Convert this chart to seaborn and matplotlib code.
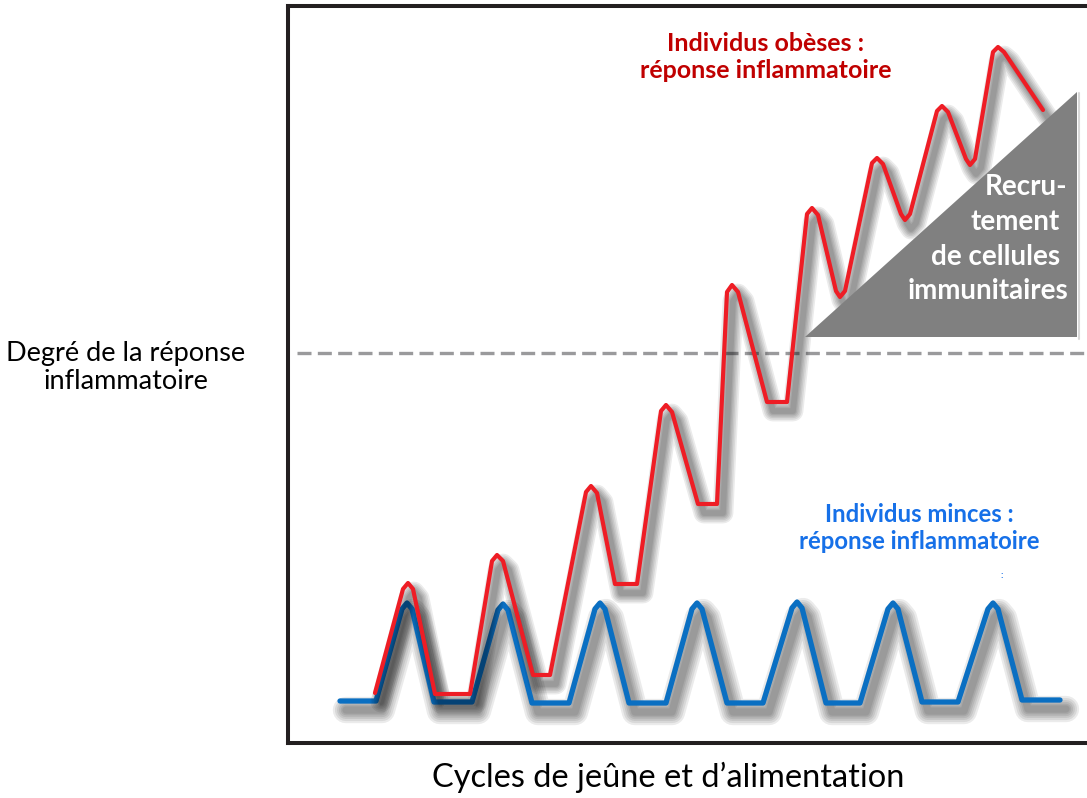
import matplotlib
matplotlib.use("Agg")
import matplotlib.pyplot as plt
import matplotlib.patheffects as pe
import seaborn as sns
import pandas as pd

# ---- data (arbitrary units) ----
blue_x = [52, 88, 114, 119, 124, 146, 184, 210, 215, 220, 244, 281, 307, 312, 317, 341,
          378, 404, 409, 414, 439, 475, 504, 509, 514, 538, 572, 600, 605, 610, 634,
          670, 700, 705, 710, 734, 772]
blue_y = [42, 42, 134, 140, 134, 41, 41, 133, 139, 133, 40, 40, 134, 140, 134, 40,
          40, 134, 140, 134, 40, 40, 135, 141, 135, 40, 40, 134, 140, 134, 41,
          41, 134, 140, 134, 43, 43]

red_x = [87, 115, 120, 125, 147, 182, 204, 209, 215, 245, 262, 298, 303, 309, 327, 349,
         373, 378, 384, 410, 429, 439, 444, 450, 479, 499, 519, 524, 530, 548, 552, 557,
         584, 589, 595, 613, 617, 622, 649, 654, 660, 678, 682, 687, 705, 710, 716, 755]
red_y = [50, 154, 160, 154, 49, 49, 182, 188, 182, 68, 68, 251, 257, 250, 159, 159,
         332, 338, 331, 239, 239, 451, 458, 451, 341, 341, 529, 535, 528, 452, 446, 452,
         580, 585, 579, 529, 523, 529, 632, 637, 631, 584, 578, 584, 691, 696, 691, 633]

threshold = 390
triangle_x = [517, 789, 789]
triangle_y = [406, 406, 651]

obese_label = "Individus obèses :\nréponse inflammatoire"
thin_label = "Individus minces :\nréponse inflammatoire"
recruit_lines = ["Recru-", "tement", "de cellules", "immunitaires"]
recruit_right = [779, 772, 772, 780]
recruit_y = [556, 521, 486, 452]
ylabel = "Degré de la réponse\ninflammatoire"
xlabel = "Cycles de jeûne et d\u2019alimentation"

# ---- figure ----
sns.set_style("white")
plt.rcParams["font.family"] = ["Lato", "DejaVu Sans"]

fig = plt.figure(figsize=(10.87, 7.98), dpi=100)
ax = fig.add_axes([288 / 1087, 55 / 798, 800 / 1087, 737 / 798])
ax.set_xlim(0, 800)
ax.set_ylim(0, 737)

df = pd.concat([
    pd.DataFrame({"x": blue_x, "y": blue_y, "groupe": "minces"}),
    pd.DataFrame({"x": red_x, "y": red_y, "groupe": "obèses"}),
], ignore_index=True)

sns.lineplot(data=df, x="x", y="y", hue="groupe", palette={"minces": "#0A6FC2", "obèses": "#EE1D25"},
             sort=False, estimator=None, legend=False, ax=ax)

widths = {0: 3.8, 1: 3.0}
for i, line in enumerate(ax.lines[:2]):
    lw = widths[i]
    line.set_linewidth(lw)
    line.set_solid_joinstyle("round")
    line.set_zorder(3 + i)
    off = (4.3, -6.5)
    effects = []
    for k in [5.0, 4.2, 3.4, 2.7, 2.0, 1.4]:
        effects.append(pe.SimpleLineShadow(offset=off, shadow_color="#000000",
                                           alpha=0.08, linewidth=lw * k))
    effects.append(pe.Normal())
    line.set_path_effects(effects)

# threshold dashed line
ax.plot([9, 797], [threshold, threshold], color="#9A9A9C", lw=2.4,
        dashes=(4.2, 1.9), zorder=2)

# triangle
ax.fill(triangle_x, triangle_y, color="#808080", zorder=5, lw=0)
ax.plot([791, 791], [404, 650], color="#D8D8D8", lw=1.5, zorder=4)
for txt, xr, yy in zip(recruit_lines, recruit_right, recruit_y):
    ax.text(xr, yy, txt, color="white", fontsize=20, fontweight="bold",
            ha="right", va="center", zorder=6)

# labels
ax.text(478, 686, obese_label, color="#C00000", fontsize=18, fontweight="bold",
        ha="center", va="center", linespacing=1.2, zorder=6)
ax.text(631, 215, thin_label, color="#1670E8", fontsize=17.2, fontweight="bold",
        ha="center", va="center", linespacing=1.25, zorder=6)
ax.text(714, 168, ":", color="#1670E8", fontsize=7, fontweight="bold",
        ha="center", va="center", zorder=6)

ax.set_xlabel(xlabel, fontsize=23.4, color="black")
ax.xaxis.set_label_coords(0.475, -0.047)
ax.xaxis.label.set_va("center")
ax.set_ylabel(ylabel, fontsize=19.5, color="black", rotation=0, ha="center", va="center",
              multialignment="center", linespacing=1.15)
ax.yaxis.set_label_coords(-0.2025, 0.51)

ax.set_xticks([])
ax.set_yticks([])
for s in ["left", "top", "bottom"]:
    ax.spines[s].set_color("#231F20")
    ax.spines[s].set_linewidth(2.9)
    ax.spines[s].set_visible(True)
ax.spines["right"].set_visible(False)

fig.savefig("out.png", dpi=100, facecolor="white")
